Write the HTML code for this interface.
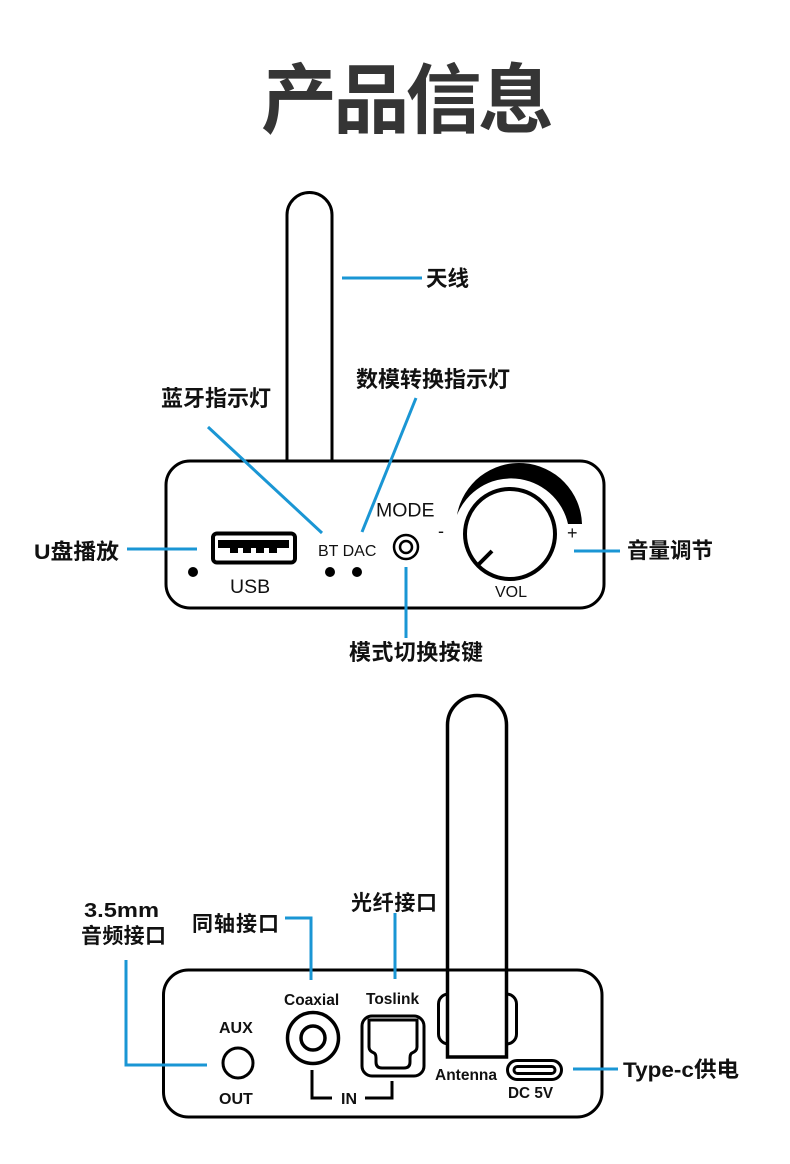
<!DOCTYPE html>
<html>
<head>
<meta charset="utf-8">
<style>
  html,body{margin:0;padding:0;background:#fff;}
  svg{display:block;}
  .lbl{font-family:"Liberation Sans","Noto Sans CJK SC",sans-serif;font-weight:700;fill:#111;}
  .lat{font-family:"Liberation Sans",sans-serif;fill:#111;}
  .latb{font-family:"Liberation Sans",sans-serif;font-weight:700;fill:#111;}
</style>
</head>
<body>
<svg width="790" height="1164" viewBox="0 0 790 1164" xmlns="http://www.w3.org/2000/svg">
  <rect width="790" height="1164" fill="#fff"/>

  <!-- Title -->
  <text x="261" y="127" class="lbl" font-size="76" style="fill:#353535" textLength="293">产品信息</text>

  <!-- ===== TOP DEVICE ===== -->
  <path d="M287,461 V215 A22.5,22.5 0 0 1 332,215 V461" fill="none" stroke="#000" stroke-width="3"/>
  <rect x="166" y="461" width="438" height="147" rx="24" fill="none" stroke="#000" stroke-width="3"/>

  <!-- USB port -->
  <rect x="213" y="533.5" width="82" height="29" rx="4" fill="none" stroke="#000" stroke-width="4"/>
  <rect x="218" y="540" width="71" height="8" fill="#000"/>
  <rect x="230" y="547" width="8" height="6" fill="#000"/>
  <rect x="243" y="547" width="8" height="6" fill="#000"/>
  <rect x="256" y="547" width="8" height="6" fill="#000"/>
  <rect x="269" y="547" width="8" height="6" fill="#000"/>
  <text x="230" y="593" class="lat" font-size="19.5">USB</text>
  <circle cx="193" cy="572" r="5" fill="#000"/>

  <!-- BT / DAC -->
  <text x="318" y="556" class="lat" font-size="16">BT DAC</text>
  <circle cx="330" cy="572" r="5" fill="#000"/>
  <circle cx="357" cy="572" r="5" fill="#000"/>

  <!-- MODE -->
  <text x="376" y="516.5" class="lat" font-size="19.5">MODE</text>
  <circle cx="406" cy="547" r="12" fill="none" stroke="#000" stroke-width="2.5"/>
  <circle cx="406" cy="547" r="6" fill="none" stroke="#000" stroke-width="2.5"/>

  <!-- Volume knob -->
  <path d="M457,515 A63,63 0 0 1 582,524 L568,524 A58.3,58.3 0 0 0 457,515 Z" fill="#000"/>
  <circle cx="510" cy="534" r="45" fill="none" stroke="#000" stroke-width="4"/>
  <line x1="478" y1="565" x2="492" y2="551" stroke="#000" stroke-width="4"/>
  <text x="438" y="537" class="lat" font-size="18">-</text>
  <text x="567" y="539" class="lat" font-size="18">+</text>
  <text x="495" y="597" class="lat" font-size="16">VOL</text>

  <!-- Top connectors -->
  <g stroke="#1a96d4" stroke-width="3" fill="none">
    <line x1="342" y1="278" x2="422" y2="278"/>
    <line x1="208" y1="427" x2="322" y2="533"/>
    <line x1="416" y1="398" x2="362" y2="532"/>
    <line x1="127" y1="549" x2="197" y2="549"/>
    <line x1="574" y1="551" x2="620" y2="551"/>
    <line x1="406" y1="567" x2="406" y2="638"/>
  </g>

  <!-- Top labels -->
  <text x="426" y="286" class="lbl" font-size="21.5" textLength="43">天线</text>
  <text x="161" y="406" class="lbl" font-size="22" textLength="110">蓝牙指示灯</text>
  <text x="356" y="387" class="lbl" font-size="22" textLength="154">数模转换指示灯</text>
  <text x="34" y="559" class="lbl" font-size="21.5" textLength="85" lengthAdjust="spacingAndGlyphs">U盘播放</text>
  <text x="627" y="558" class="lbl" font-size="21.5" textLength="86">音量调节</text>
  <text x="349" y="660" class="lbl" font-size="22" textLength="134">模式切换按键</text>

  <!-- ===== BOTTOM DEVICE ===== -->
  <rect x="163.5" y="970" width="438.5" height="147" rx="25" fill="none" stroke="#000" stroke-width="3"/>
  <rect x="438.5" y="994" width="78" height="50" rx="10" fill="none" stroke="#000" stroke-width="3"/>
  <rect x="449" y="985" width="56" height="71" fill="#fff"/>
  <path d="M447.5,1057 V725 A29.5,29.5 0 0 1 506.5,725 V1057 Z" fill="none" stroke="#000" stroke-width="3.5"/>

  <!-- AUX -->
  <text x="219" y="1033" class="latb" font-size="16">AUX</text>
  <circle cx="238" cy="1063" r="15" fill="none" stroke="#000" stroke-width="3"/>
  <text x="219" y="1104" class="latb" font-size="16">OUT</text>

  <!-- Coaxial -->
  <text x="284" y="1005" class="latb" font-size="15.5">Coaxial</text>
  <circle cx="313" cy="1038" r="25.5" fill="none" stroke="#000" stroke-width="3.5"/>
  <circle cx="313" cy="1038" r="12" fill="none" stroke="#000" stroke-width="3.5"/>

  <!-- Toslink -->
  <text x="366" y="1004" class="latb" font-size="15.5">Toslink</text>
  <rect x="362" y="1016" width="62" height="60" rx="10" fill="none" stroke="#000" stroke-width="3"/>
  <path d="M369,1020 H417 V1047 Q417,1051 412,1053 Q410,1054 410,1058 V1062 Q410,1068 404,1068 H382 Q376,1068 376,1062 V1058 Q376,1054 374,1053 Q369,1051 369,1047 Z" fill="none" stroke="#000" stroke-width="3"/>

  <!-- IN bracket -->
  <polyline points="312,1070 312,1098 332,1098" fill="none" stroke="#000" stroke-width="3"/>
  <polyline points="365,1098 392,1098 392,1081" fill="none" stroke="#000" stroke-width="3"/>
  <text x="341" y="1104" class="latb" font-size="16">IN</text>

  <!-- Type-C -->
  <text x="435" y="1080" class="latb" font-size="15.5">Antenna</text>
  <rect x="507.5" y="1060.5" width="54" height="19" rx="9.5" fill="none" stroke="#000" stroke-width="3"/>
  <rect x="514" y="1066.5" width="41" height="7" rx="3.5" fill="none" stroke="#000" stroke-width="3"/>
  <text x="508" y="1098" class="latb" font-size="15.3">DC 5V</text>

  <!-- Bottom connectors -->
  <g stroke="#1a96d4" stroke-width="3" fill="none">
    <polyline points="126,960 126,1065 207,1065"/>
    <polyline points="285,918 311,918 311,980"/>
    <line x1="395" y1="913" x2="395" y2="979"/>
    <line x1="573" y1="1069" x2="618" y2="1069"/>
  </g>

  <!-- Bottom labels -->
  <text x="84" y="917" class="lbl" font-size="20" textLength="75" lengthAdjust="spacingAndGlyphs">3.5mm</text>
  <text x="81" y="943" class="lbl" font-size="21" textLength="85">音频接口</text>
  <text x="192" y="931" class="lbl" font-size="21" textLength="87">同轴接口</text>
  <text x="351" y="910" class="lbl" font-size="21" textLength="86">光纤接口</text>
  <text x="623" y="1077" class="lbl" font-size="21.5" textLength="116" lengthAdjust="spacingAndGlyphs">Type-c供电</text>
</svg>
</body>
</html>
